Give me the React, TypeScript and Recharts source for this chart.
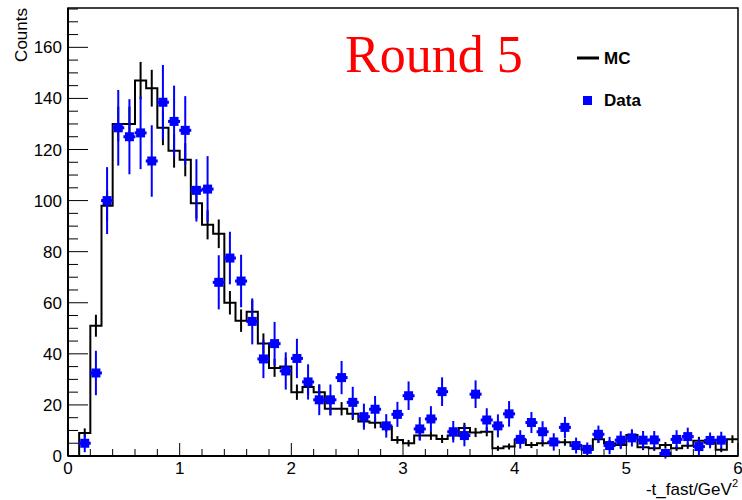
import React from 'react';
import { ComposedChart, Line, Scatter, ErrorBar, XAxis, YAxis, ReferenceArea } from 'recharts';

// histogram binning: 59 bins of 0.1 from 0.1 to 6.0
const binStart = 0.1;
const binWidth = 0.1;

const mcCounts = [
  9, 51, 98, 130, 130, 147, 144, 128.5, 119.5, 116,
  99, 90.5, 87, 60, 53, 56.5, 44, 34.5, 35, 25,
  27, 25, 18.5, 18.5, 16.5, 13.5, 13, 11.5, 6.3, 5,
  8, 8, 6.7, 8, 11, 9.2, 9.5, 3, 3.7, 6.3,
  4.3, 5, 5.4, 5.4, 4, 2.4, 6.6, 5, 4.3, 8.2,
  3.4, 3, 4.3, 3, 4, 6, 5.2, 2.4, 6.6,
];

const mcErrors = [
  1.8, 4.3, 5.9, 6.8, 6.8, 7.3, 7.2, 6.8, 6.6, 6.5,
  6.0, 5.7, 5.6, 4.6, 4.4, 4.5, 4.0, 3.5, 3.5, 3.0,
  3.1, 3.0, 2.6, 2.6, 2.4, 2.2, 2.2, 2.0, 1.5, 1.3,
  1.7, 1.7, 1.6, 1.7, 2.0, 1.8, 1.8, 1.0, 1.2, 1.5,
  1.2, 1.3, 1.4, 1.4, 1.2, 0.9, 1.5, 1.3, 1.2, 1.7,
  1.1, 1.0, 1.2, 1.0, 1.2, 1.5, 1.4, 0.9, 1.5,
];

const dataCounts = [
  5, 32.5, 100, 128.5, 125, 126.5, 115.5, 138.5, 131, 127.5,
  104, 104.5, 68, 77.5, 68.5, 52.7, 38, 44, 33.3, 38.2,
  29, 22, 22, 30.7, 21, 15.4, 18.3, 11.8, 16.3, 23.6,
  10.6, 14.5, 25.2, 9.5, 8, 24.2, 14.1, 11.8, 16.5, 6.5,
  13.1, 9.5, 5.5, 11.2, 4.1, 2.6, 8.5, 4.1, 6.2, 7.1,
  6.2, 6.3, 1, 6.5, 7.6, 3.7, 6.1, 6.2,
];

const dataErrors = [
  3.5, 8.7, 13.1, 14.8, 14.7, 14.2, 14.0, 14.6, 14.0, 13.4,
  12.2, 12.9, 10.6, 10.3, 10.3, 9.0, 7.5, 8.5, 7.3, 7.7,
  6.9, 6.0, 6.0, 6.5, 6.1, 5.1, 5.2, 4.6, 4.9, 5.6,
  4.6, 5.0, 5.6, 4.2, 4.2, 5.4, 4.6, 4.5, 5.0, 3.6,
  4.1, 4.1, 3.4, 4.1, 3.1, 2.7, 3.4, 3.4, 3.5, 3.4,
  3.6, 3.5, 2.0, 3.6, 3.5, 3.3, 3.1, 3.3,
];

const xLabels = [0, 1, 2, 3, 4, 5, 6];
const yLabels = [0, 20, 40, 60, 80, 100, 120, 140, 160];
const xTicks = Array.from({ length: 31 }, (_, i) => +(i * 0.2).toFixed(1));
const yTicks = Array.from({ length: 36 }, (_, i) => i * 5);

const X_MAX = 6;
const Y_MAX = 175.4;
const BLUE = '#0000ff';
const FONT = '"Liberation Sans", Arial, Helvetica, sans-serif';

// step outline: start at baseline on the first edge, end on the last edge
const mcStep = [
  { x: binStart, y: 0 },
  ...mcCounts.map((c, i) => ({ x: +(binStart + i * binWidth).toFixed(2), y: c })),
  { x: X_MAX, y: mcCounts[mcCounts.length - 1] },
];

const mcPoints = mcCounts.map((c, i) => ({
  x: +(binStart + (i + 0.5) * binWidth).toFixed(3),
  y: c,
  err: mcErrors[i],
}));

const dataPoints = dataCounts.map((c, i) => ({
  x: +(binStart + (i + 0.5) * binWidth).toFixed(3),
  y: c,
  err: dataErrors[i],
}));

const XTick = (props: any) => {
  const { x, y, payload } = props;
  const v = payload.value;
  const major = xLabels.some((l) => Math.abs(l - v) < 1e-6);
  return (
    <g>
      <line x1={x} x2={x} y1={y} y2={y - (major ? 13 : 7)} stroke="#000" strokeWidth={1} />
      {major && (
        <text x={x} y={y + 18} textAnchor="middle" fontSize={17} fontFamily={FONT} fill="#000">
          {Math.round(v)}
        </text>
      )}
    </g>
  );
};

const YTick = (props: any) => {
  const { x, y, payload } = props;
  const v = payload.value;
  const major = yLabels.includes(v);
  return (
    <g>
      <line x1={x} x2={x + (major ? 20 : 10)} y1={y} y2={y} stroke="#000" strokeWidth={1} />
      {major && (
        <text x={x - 6} y={y + 6} textAnchor="end" fontSize={17} fontFamily={FONT} fill="#000">
          {v}
        </text>
      )}
    </g>
  );
};

const DataMarker = (props: any) => {
  const { cx, cy } = props;
  if (cx == null || cy == null) return <g />;
  return (
    <g>
      <rect x={cx - 4.5} y={cy - 4.5} width={9} height={9} fill={BLUE} />
      <rect x={cx - 6} y={cy - 1.5} width={12} height={3} fill={BLUE} />
    </g>
  );
};

const NoMarker = () => <g />;

export default function App() {
  return (
    <div style={{ position: 'absolute', left: 0, top: 0, width: 742, height: 500, background: '#fff' }}>
      <ComposedChart width={742} height={500} margin={{ top: 8, right: 4, bottom: 0, left: 0 }}>
        <XAxis
          dataKey="x"
          type="number"
          domain={[0, X_MAX]}
          ticks={xTicks}
          interval={0}
          height={44}
          tickSize={0}
          tickMargin={0}
          tickLine={false}
          tick={<XTick />}
          axisLine={{ stroke: '#000', strokeWidth: 2 }}
          allowDataOverflow
        />
        <YAxis
          type="number"
          domain={[0, Y_MAX]}
          ticks={yTicks}
          interval={0}
          width={68}
          tickSize={0}
          tickMargin={0}
          tickLine={false}
          tick={<YTick />}
          axisLine={{ stroke: '#000', strokeWidth: 2 }}
          allowDataOverflow
        />
        <ReferenceArea x1={0} x2={X_MAX} y1={0} y2={Y_MAX} fill="none" stroke="#000" strokeWidth={1.5} />
        <Line
          data={mcStep}
          dataKey="y"
          type="stepAfter"
          stroke="#000"
          strokeWidth={2}
          dot={false}
          isAnimationActive={false}
        />
        <Scatter data={mcPoints} dataKey="y" shape={NoMarker} isAnimationActive={false}>
          <ErrorBar dataKey="err" direction="y" width={0} stroke="#000" strokeWidth={2} />
        </Scatter>
        <Scatter data={dataPoints} dataKey="y" shape={DataMarker} isAnimationActive={false}>
          <ErrorBar dataKey="err" direction="y" width={0} stroke={BLUE} strokeWidth={2} />
        </Scatter>
      </ComposedChart>
      <svg
        width={742}
        height={500}
        style={{ position: 'absolute', left: 0, top: 0, pointerEvents: 'none' }}
      >
        <text transform="translate(27,8) rotate(-90)" textAnchor="end" fontSize={17} fontFamily={FONT} fill="#000">
          Counts
        </text>
        <text x={738} y={495} textAnchor="end" fontSize={17} fontFamily={FONT} fill="#000">
          -t_fast/GeV<tspan dy={-8} fontSize={11}>2</tspan>
        </text>
        <text x={345} y={72} fontSize={52} fontFamily='"Liberation Serif", "Times New Roman", serif' fill="#ff0000">
          Round 5
        </text>
        <line x1={577} x2={599} y1={58} y2={58} stroke="#000" strokeWidth={3} />
        <text x={604} y={64} fontSize={17} fontWeight="bold" fontFamily={FONT} fill="#000">
          MC
        </text>
        <rect x={583} y={96} width={9} height={9} fill={BLUE} />
        <text x={604} y={106} fontSize={17} fontWeight="bold" fontFamily={FONT} fill="#000">
          Data
        </text>
      </svg>
    </div>
  );
}
